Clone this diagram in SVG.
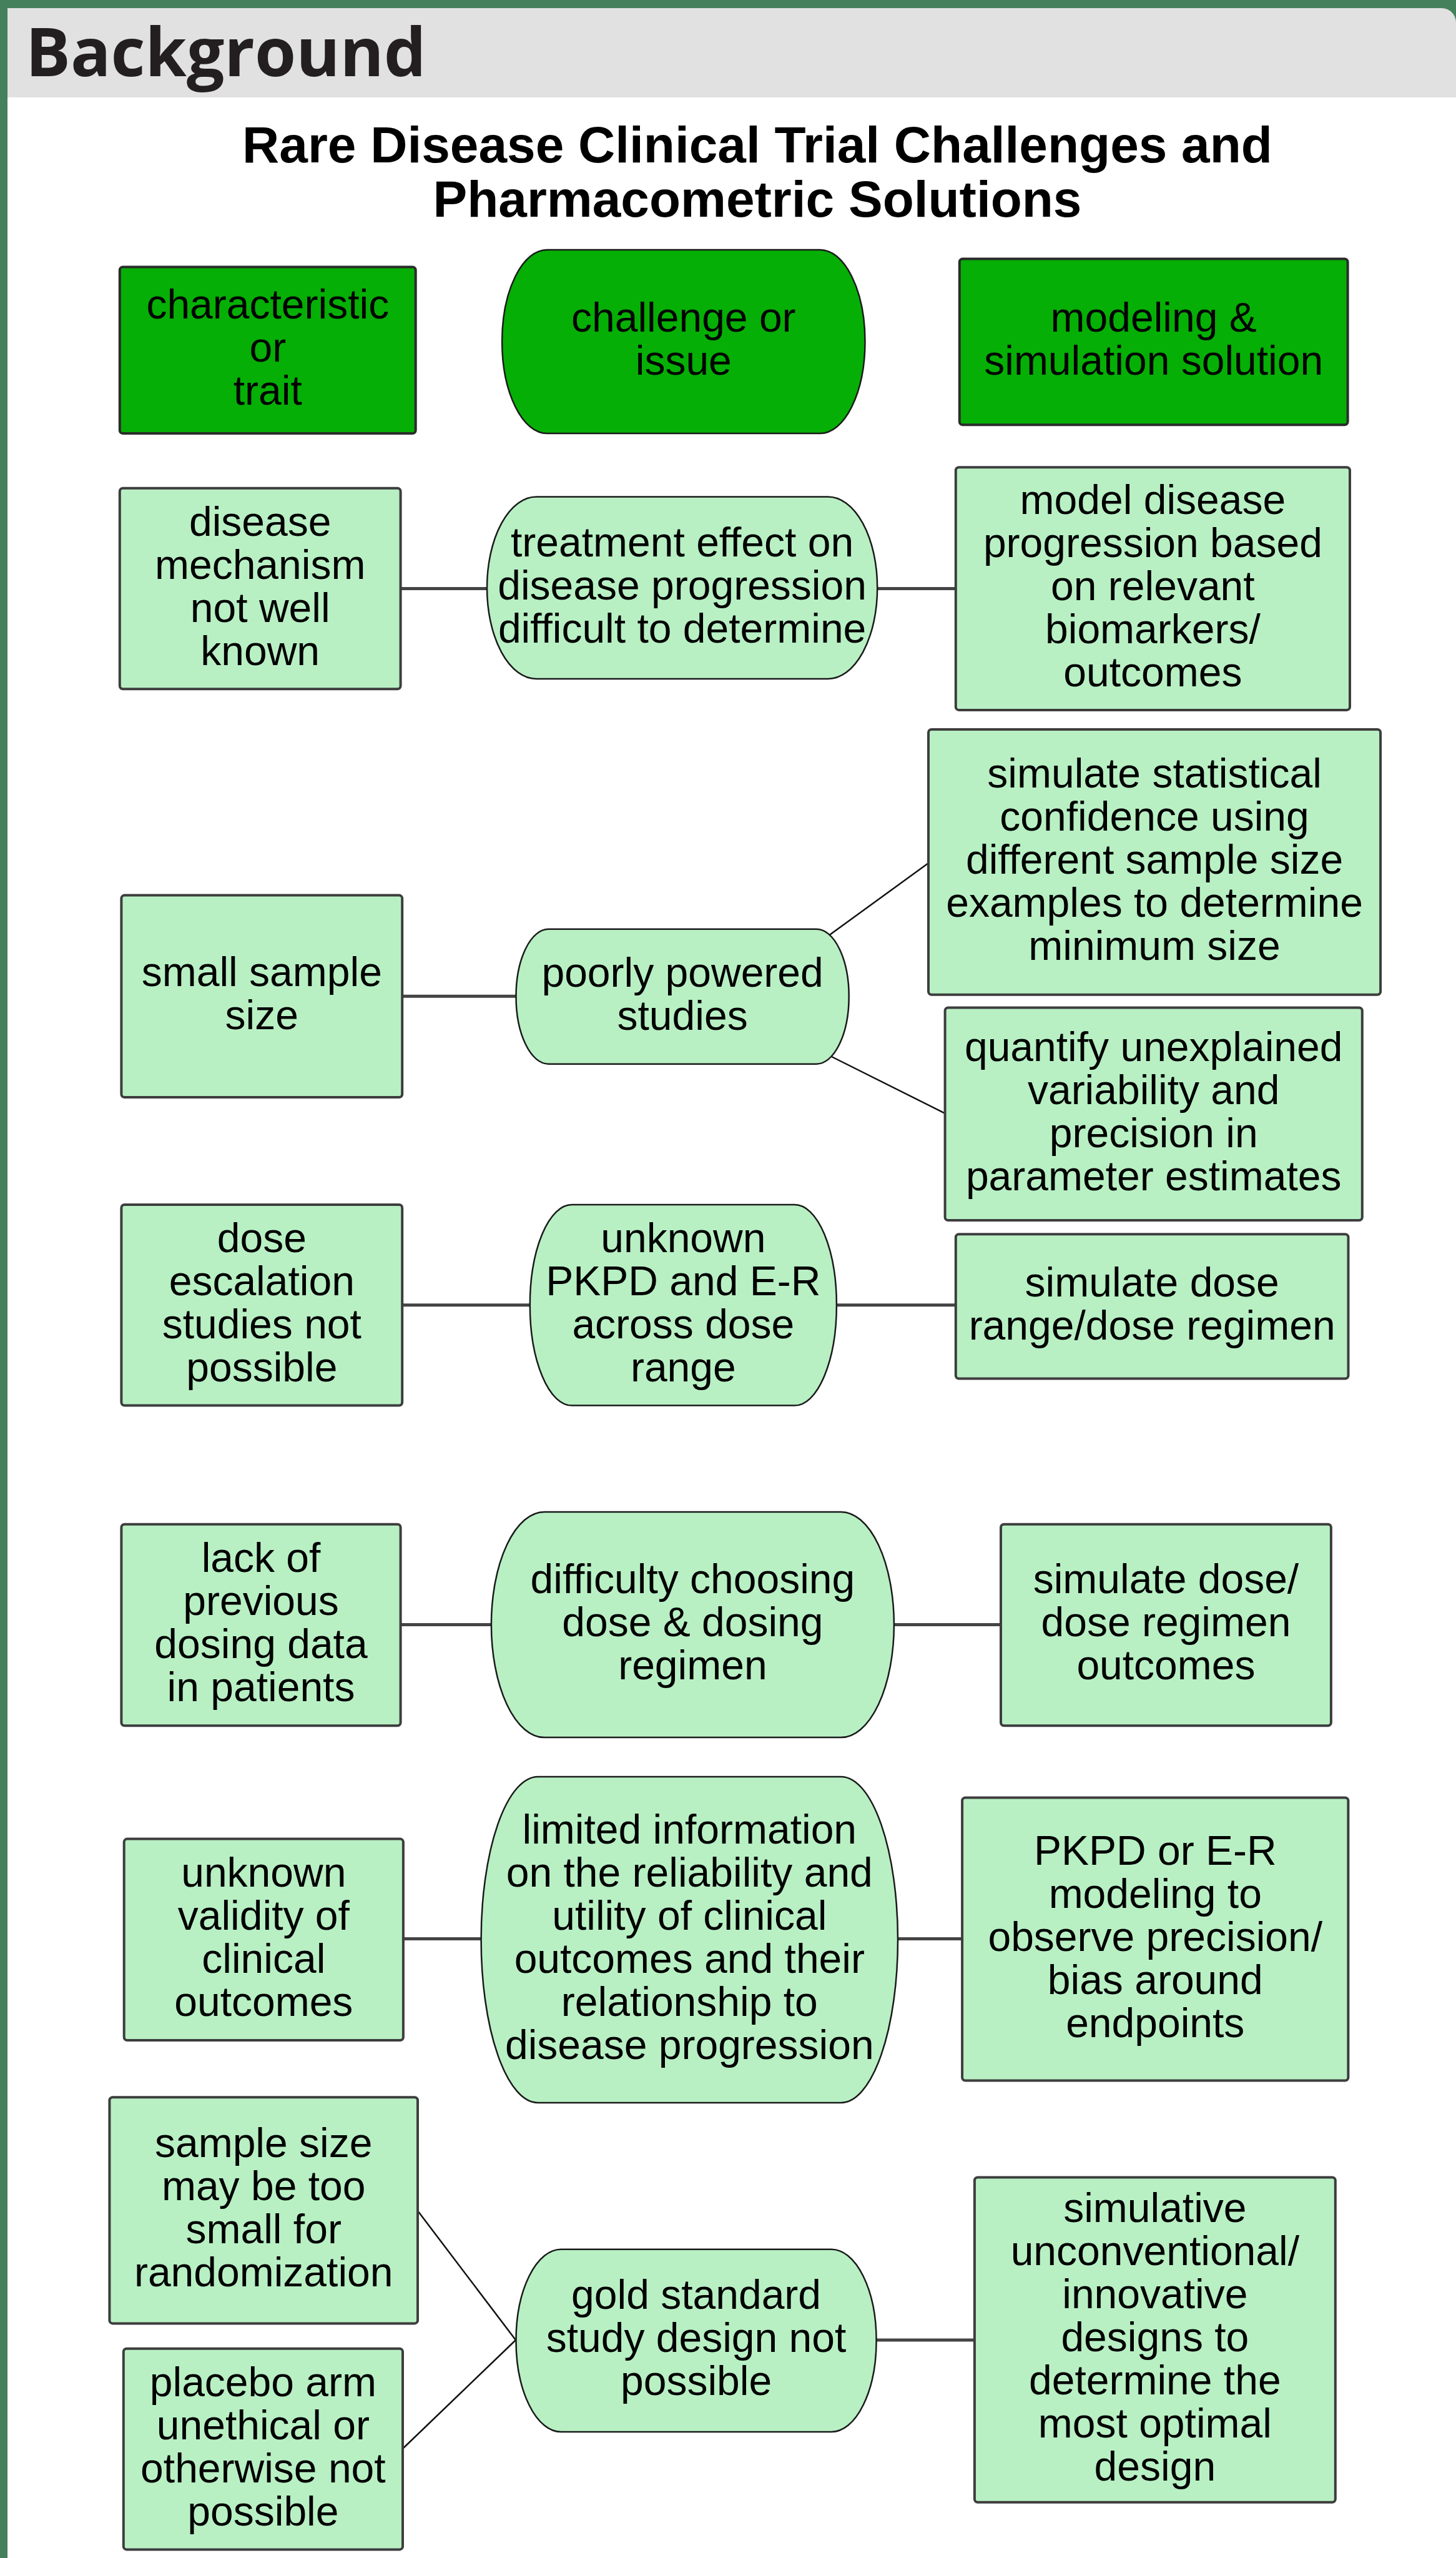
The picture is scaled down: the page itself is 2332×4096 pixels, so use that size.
<svg xmlns="http://www.w3.org/2000/svg" width="2332" height="4096" viewBox="0 0 2332 4096">
<style>
.box{fill:#b8f0c4;stroke:#3d3d3d;stroke-width:4}
.cap{fill:#b8f0c4;stroke:#1a1a1a;stroke-width:2.5}
.lbox{fill:#05af05;stroke:#2b2b2b;stroke-width:4}
.lcap{fill:#05af05;stroke:#1a1a1a;stroke-width:2.5}
.t{font-family:"Liberation Sans",Arial,sans-serif;font-size:66px;fill:#000;text-anchor:middle}
.h{fill:none;stroke:#444;stroke-width:5}
.d{fill:none;stroke:#111;stroke-width:2.5}
</style>
<rect x="0" y="0" width="2332" height="4096" fill="#ffffff"/>
<g id="frame">
<rect x="0" y="0" width="2332" height="40" fill="#44805c"/>
<rect x="0" y="0" width="12" height="4096" fill="#44805c"/>
<path d="M12,13 H2309 A23,23 0 0 1 2332,36 V156 H12 Z" fill="#e1e1e1"/>
<text x="41" y="122" font-family="'Open Sans',sans-serif" font-weight="700" font-size="107" fill="#231f20">Background</text>
</g>
<g id="title" font-family="'Liberation Sans',Arial,sans-serif" font-weight="700" font-size="82" text-anchor="middle" fill="#000">
<text x="1213" y="260">Rare Disease Clinical Trial Challenges and</text>
<text x="1213" y="347">Pharmacometric Solutions</text>
</g>
<g id="connectors">
<line class="h" x1="641.6" y1="942.6" x2="780" y2="942.6"/>
<line class="h" x1="1405" y1="942.6" x2="1531" y2="942.6"/>
<line class="h" x1="644" y1="1595.3" x2="826.5" y2="1595.3"/>
<line class="d" x1="1326" y1="1499" x2="1487" y2="1382"/>
<line class="d" x1="1326" y1="1689" x2="1513.6" y2="1782.8"/>
<line class="h" x1="644" y1="2089.8" x2="849" y2="2089.8"/>
<line class="h" x1="1340" y1="2089.8" x2="1531" y2="2089.8"/>
<line class="h" x1="641.6" y1="2601.5" x2="787" y2="2601.5"/>
<line class="h" x1="1432" y1="2601.5" x2="1603" y2="2601.5"/>
<line class="h" x1="646" y1="3104.6" x2="770.6" y2="3104.6"/>
<line class="h" x1="1438" y1="3104.6" x2="1541" y2="3104.6"/>
<line class="h" x1="1403.5" y1="3747" x2="1561" y2="3747"/>
<line class="d" x1="669" y1="3540" x2="826" y2="3747"/>
<line class="d" x1="645" y1="3921" x2="826" y2="3747"/>
</g>
<g id="legend-trait">
<rect class="lbox" x="191.8" y="427.4" width="473.9" height="266.6" rx="5"/>
<text class="t"><tspan x="428.8" y="510.2">characteristic</tspan><tspan x="428.8" y="579.2">or</tspan><tspan x="428.8" y="648.2">trait</tspan></text>
</g>
<g id="legend-challenge">
<rect class="lcap" x="804.1" y="399.9" width="581.4" height="294.1" rx="72" ry="147"/>
<text class="t"><tspan x="1094.8" y="530.9">challenge or</tspan><tspan x="1094.8" y="599.9">issue</tspan></text>
</g>
<g id="legend-solution">
<rect class="lbox" x="1536.8" y="414.5" width="621.8" height="265.7" rx="5"/>
<text class="t"><tspan x="1847.7" y="531.4">modeling &amp;</tspan><tspan x="1847.7" y="600.4">simulation solution</tspan></text>
</g>
<g id="trait-mechanism">
<rect class="box" x="191.8" y="781.7" width="449.8" height="321.6" rx="5"/>
<text class="t"><tspan x="416.7" y="857.5">disease</tspan><tspan x="416.7" y="926.5">mechanism</tspan><tspan x="416.7" y="995.5">not well</tspan><tspan x="416.7" y="1064.5">known</tspan></text>
</g>
<g id="challenge-treatment-effect">
<rect class="cap" x="780" y="795.5" width="625.2" height="291.5" rx="79" ry="145.75"/>
<text class="t"><tspan x="1092.6" y="890.75">treatment effect on</tspan><tspan x="1092.6" y="959.75">disease progression</tspan><tspan x="1092.6" y="1028.75">difficult to determine</tspan></text>
</g>
<g id="solution-disease-progression">
<rect class="box" x="1530.8" y="748.2" width="631.2" height="388.7" rx="5"/>
<text class="t"><tspan x="1846.4" y="823.05">model disease</tspan><tspan x="1846.4" y="892.05">progression based</tspan><tspan x="1846.4" y="961.05">on relevant</tspan><tspan x="1846.4" y="1030.05">biomarkers/</tspan><tspan x="1846.4" y="1099.05">outcomes</tspan></text>
</g>
<g id="trait-small-sample">
<rect class="box" x="194.4" y="1433.6" width="449.8" height="323.4" rx="5"/>
<text class="t"><tspan x="419.3" y="1579.3">small sample</tspan><tspan x="419.3" y="1648.3">size</tspan></text>
</g>
<g id="challenge-poorly-powered">
<rect class="cap" x="826.5" y="1487.8" width="533.2" height="215.9" rx="52" ry="107.95"/>
<text class="t"><tspan x="1093.1" y="1579.75">poorly powered</tspan><tspan x="1093.1" y="1648.75">studies</tspan></text>
</g>
<g id="solution-statistical-confidence">
<rect class="box" x="1487" y="1167.9" width="724.1" height="424.8" rx="5"/>
<text class="t"><tspan x="1849.05" y="1260.8">simulate statistical</tspan><tspan x="1849.05" y="1329.8">confidence using</tspan><tspan x="1849.05" y="1398.8">different sample size</tspan><tspan x="1849.05" y="1467.8">examples to determine</tspan><tspan x="1849.05" y="1536.8">minimum size</tspan></text>
</g>
<g id="solution-variability">
<rect class="box" x="1513.6" y="1613.4" width="668.2" height="340.6" rx="5"/>
<text class="t"><tspan x="1847.7" y="1698.7">quantify unexplained</tspan><tspan x="1847.7" y="1767.7">variability and</tspan><tspan x="1847.7" y="1836.7">precision in</tspan><tspan x="1847.7" y="1905.7">parameter estimates</tspan></text>
</g>
<g id="trait-dose-escalation">
<rect class="box" x="194.4" y="1929" width="449.8" height="321.6" rx="5"/>
<text class="t"><tspan x="419.3" y="2004.8">dose</tspan><tspan x="419.3" y="2073.8">escalation</tspan><tspan x="419.3" y="2142.8">studies not</tspan><tspan x="419.3" y="2211.8">possible</tspan></text>
</g>
<g id="challenge-pkpd">
<rect class="cap" x="848.8" y="1929" width="491.1" height="321.6" rx="67" ry="160.8"/>
<text class="t"><tspan x="1094.35" y="2004.8">unknown</tspan><tspan x="1094.35" y="2073.8">PKPD and E-R</tspan><tspan x="1094.35" y="2142.8">across dose</tspan><tspan x="1094.35" y="2211.8">range</tspan></text>
</g>
<g id="solution-dose-range">
<rect class="box" x="1530.8" y="1976.3" width="628.7" height="231.3" rx="5"/>
<text class="t"><tspan x="1845.15" y="2075.95">simulate dose</tspan><tspan x="1845.15" y="2144.95">range/dose regimen</tspan></text>
</g>
<g id="trait-dosing-data">
<rect class="box" x="194.4" y="2440.7" width="447.2" height="322.5" rx="5"/>
<text class="t"><tspan x="418" y="2516.95">lack of</tspan><tspan x="418" y="2585.95">previous</tspan><tspan x="418" y="2654.95">dosing data</tspan><tspan x="418" y="2723.95">in patients</tspan></text>
</g>
<g id="challenge-choosing-dose">
<rect class="cap" x="786.9" y="2420.9" width="645" height="361.2" rx="85" ry="180.6"/>
<text class="t"><tspan x="1109.4" y="2551">difficulty choosing</tspan><tspan x="1109.4" y="2620">dose &amp; dosing</tspan><tspan x="1109.4" y="2689">regimen</tspan></text>
</g>
<g id="solution-dose-outcomes">
<rect class="box" x="1603" y="2440.7" width="528.9" height="322.5" rx="5"/>
<text class="t"><tspan x="1867.45" y="2551.45">simulate dose/</tspan><tspan x="1867.45" y="2620.45">dose regimen</tspan><tspan x="1867.45" y="2689.45">outcomes</tspan></text>
</g>
<g id="trait-validity">
<rect class="box" x="198.7" y="2944.6" width="447.2" height="322.5" rx="5"/>
<text class="t"><tspan x="422.3" y="3020.85">unknown</tspan><tspan x="422.3" y="3089.85">validity of</tspan><tspan x="422.3" y="3158.85">clinical</tspan><tspan x="422.3" y="3227.85">outcomes</tspan></text>
</g>
<g id="challenge-limited-information">
<rect class="cap" x="770.6" y="2844.9" width="667.4" height="522" rx="91" ry="261"/>
<text class="t"><tspan x="1104.3" y="2951.9">limited information</tspan><tspan x="1104.3" y="3020.9">on the reliability and</tspan><tspan x="1104.3" y="3089.9">utility of clinical</tspan><tspan x="1104.3" y="3158.9">outcomes and their</tspan><tspan x="1104.3" y="3227.9">relationship to</tspan><tspan x="1104.3" y="3296.9">disease progression</tspan></text>
</g>
<g id="solution-pkpd-er">
<rect class="box" x="1541.1" y="2878.4" width="618.3" height="453.2" rx="5"/>
<text class="t"><tspan x="1850.25" y="2985.5">PKPD or E-R</tspan><tspan x="1850.25" y="3054.5">modeling to</tspan><tspan x="1850.25" y="3123.5">observe precision/</tspan><tspan x="1850.25" y="3192.5">bias around</tspan><tspan x="1850.25" y="3261.5">endpoints</tspan></text>
</g>
<g id="trait-randomization">
<rect class="box" x="175.4" y="3358.3" width="493.6" height="362.1" rx="5"/>
<text class="t"><tspan x="422.2" y="3454.35">sample size</tspan><tspan x="422.2" y="3523.35">may be too</tspan><tspan x="422.2" y="3592.35">small for</tspan><tspan x="422.2" y="3661.35">randomization</tspan></text>
</g>
<g id="trait-placebo">
<rect class="box" x="197.8" y="3760.8" width="447.2" height="321.6" rx="5"/>
<text class="t"><tspan x="421.4" y="3836.6">placebo arm</tspan><tspan x="421.4" y="3905.6">unethical or</tspan><tspan x="421.4" y="3974.6">otherwise not</tspan><tspan x="421.4" y="4043.6">possible</tspan></text>
</g>
<g id="challenge-gold-standard">
<rect class="cap" x="826.5" y="3601.7" width="577.1" height="292.4" rx="72" ry="146.2"/>
<text class="t"><tspan x="1115.05" y="3697.4">gold standard</tspan><tspan x="1115.05" y="3766.4">study design not</tspan><tspan x="1115.05" y="3835.4">possible</tspan></text>
</g>
<g id="solution-innovative-designs">
<rect class="box" x="1560.9" y="3486.4" width="577.9" height="520.3" rx="5"/>
<text class="t"><tspan x="1849.85" y="3558.05">simulative</tspan><tspan x="1849.85" y="3627.05">unconventional/</tspan><tspan x="1849.85" y="3696.05">innovative</tspan><tspan x="1849.85" y="3765.05">designs to</tspan><tspan x="1849.85" y="3834.05">determine the</tspan><tspan x="1849.85" y="3903.05">most optimal</tspan><tspan x="1849.85" y="3972.05">design</tspan></text>
</g>
</svg>
